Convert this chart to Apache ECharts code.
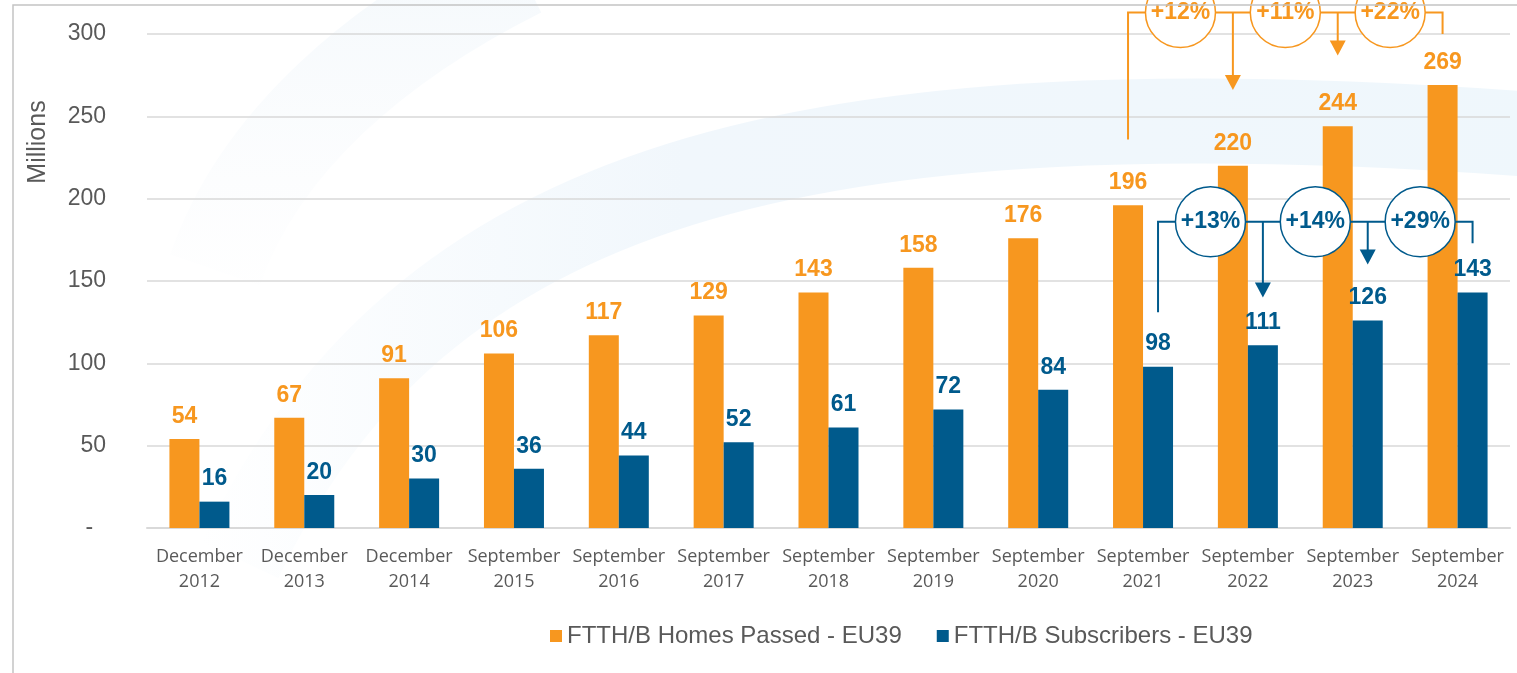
<!DOCTYPE html>
<html>
<head>
<meta charset="utf-8">
<script src="https://cdn.jsdelivr.net/npm/echarts@6/dist/echarts.min.js"></script>
<style>
  html, body { margin: 0; padding: 0; background: #fff; }
  #main { width: 1517px; height: 673px; }
</style>
</head>
<body>
<div id="main"></div>
<script>
// categories and values (millions)
const categories = [
  'December\n2012', 'December\n2013', 'December\n2014', 'September\n2015',
  'September\n2016', 'September\n2017', 'September\n2018', 'September\n2019',
  'September\n2020', 'September\n2021', 'September\n2022', 'September\n2023',
  'September\n2024'
];
const homesPassed = [54, 67, 91, 106, 117, 129, 143, 158, 176, 196, 220, 244, 269];
const subscribers = [16, 20, 30, 36, 44, 52, 61, 72, 84, 98, 111, 126, 143];
const yTicks = [0, 50, 100, 150, 200, 250, 300];

// year-on-year growth callouts over the last four periods
const bracketCats = [9, 10, 11, 12];
const homesGrowth = ['+12%', '+11%', '+22%'];
const subsGrowth = ['+13%', '+14%', '+29%'];
// heights in millions: start, bracket level, arrow tip 1, arrow tip 2, end
const homesBracket = [236, 313, 266, 287, 300];
const subsBracket = [131, 186, 140, 160, 173];

const ORANGE = '#F7971F';
const BLUE = '#005A8C';
const GREY = '#595959';
const BAR_W = 30;

function bracketSeries(levels, labels, color, shift) {
  return {
    type: 'custom',
    silent: true,
    clip: false,
    z: 10,
    data: [[bracketCats[0], levels[0]]],
    renderItem: function (params, api) {
      const xs = bracketCats.map(c => api.coord([c, 0])[0] + shift);
      const y = v => api.coord([0, v])[1];
      const top = y(levels[1]);
      const stroke = { stroke: color, lineWidth: 2, fill: null };
      const children = [{
        type: 'polyline',
        shape: { points: [[xs[0], y(levels[0])], [xs[0], top], [xs[3], top], [xs[3], y(levels[4])]] },
        style: stroke
      }];
      [1, 2].forEach(function (k) {
        const tip = y(levels[k + 1]);
        children.push({ type: 'line', shape: { x1: xs[k], y1: top, x2: xs[k], y2: tip - 12 }, style: stroke });
        children.push({
          type: 'polygon',
          shape: { points: [[xs[k] - 8, tip - 15], [xs[k] + 8, tip - 15], [xs[k], tip]] },
          style: { fill: color }
        });
      });
      labels.forEach(function (txt, i) {
        const cx = (xs[i] + xs[i + 1]) / 2;
        children.push({
          type: 'circle',
          shape: { cx: cx, cy: top, r: 35 },
          style: { fill: '#fff', stroke: color, lineWidth: 1.5 }
        });
        children.push({
          type: 'text',
          x: cx, y: top,
          style: {
            text: txt, fill: color, align: 'center', verticalAlign: 'middle',
            font: 'bold 23px "Liberation Sans", Arial, sans-serif'
          }
        });
      });
      return { type: 'group', children: children };
    }
  };
}

const chart = echarts.init(document.getElementById('main'));
chart.setOption({
  backgroundColor: '#fff',
  animation: false,
  graphic: [
    // faint decorative swooshes behind the plot
    {
      type: 'bezierCurve', z: -10,
      shape: { x1: 520, y1: -30, cpx1: 380, cpy1: 40, cpx2: 260, cpy2: 140, x2: 215, y2: 270 },
      style: {
        lineWidth: 95, fill: null,
        stroke: { type: 'linear', x: 0, y: 0, x2: 0, y2: 1, colorStops: [
          { offset: 0, color: '#f3f8fc' }, { offset: 1, color: 'rgba(248,250,252,0)' }] }
      }
    },
    {
      type: 'bezierCurve', z: -10,
      shape: { x1: 240, y1: 560, cpx1: 420, cpy1: 180, cpx2: 800, cpy2: 80, x2: 1540, y2: 135 },
      style: {
        lineWidth: 85, fill: null,
        stroke: { type: 'linear', x: 0, y: 0, x2: 1, y2: 0, colorStops: [
          { offset: 0, color: 'rgba(240,247,252,0)' }, { offset: 0.35, color: '#f1f7fc' },
          { offset: 1, color: '#eff7fc' }] }
      }
    },
    {
      type: 'rect', z: 100,
      shape: { x: 13, y: 5, width: 1600, height: 800 },
      style: { fill: null, stroke: '#c4c4c4', lineWidth: 1.5 }
    },
    {
      type: 'text', rotation: Math.PI / 2, x: 38, y: 142,
      style: {
        text: 'Millions', fill: GREY, align: 'center', verticalAlign: 'middle',
        font: '25px "Liberation Sans", Arial, sans-serif'
      }
    }
  ],
  grid: { left: 147, right: 7, top: 34, bottom: 145 },
  legend: {
    data: ['FTTH/B Homes Passed - EU39', 'FTTH/B Subscribers - EU39'],
    left: 545, top: 619,
    itemWidth: 12, itemHeight: 12, itemGap: 35,
    icon: 'rect',
    textStyle: { color: GREY, fontSize: 24, fontFamily: '"Liberation Sans", Arial, sans-serif' }
  },
  xAxis: {
    type: 'category',
    data: categories,
    axisLine: { lineStyle: { color: '#d9d9d9', width: 2 } },
    axisTick: { show: false },
    axisLabel: {
      color: GREY, fontSize: 18, lineHeight: 25, margin: 16,
      fontFamily: '"Open Sans", sans-serif', interval: 0
    }
  },
  yAxis: {
    type: 'value',
    min: yTicks[0], max: yTicks[yTicks.length - 1], interval: 50,
    axisLine: { show: false },
    axisTick: { show: false },
    splitLine: { lineStyle: { color: '#d9d9d9', width: 1.5 } },
    axisLabel: {
      color: GREY, fontSize: 23, margin: 41,
      fontFamily: '"Liberation Sans", Arial, sans-serif',
      formatter: v => v === 0 ? '-  ' : String(v)
    }
  },
  series: [
    {
      name: 'FTTH/B Homes Passed - EU39',
      type: 'bar', data: homesPassed, barWidth: BAR_W, barGap: '0%',
      itemStyle: { color: ORANGE },
      label: {
        show: true, position: 'top', distance: 11, color: ORANGE,
        fontWeight: 'bold', fontSize: 23, fontFamily: '"Liberation Sans", Arial, sans-serif'
      }
    },
    {
      name: 'FTTH/B Subscribers - EU39',
      type: 'bar', data: subscribers, barWidth: BAR_W,
      itemStyle: { color: BLUE },
      label: {
        show: true, position: 'top', distance: 11, color: BLUE,
        fontWeight: 'bold', fontSize: 23, fontFamily: '"Liberation Sans", Arial, sans-serif'
      }
    },
    bracketSeries(homesBracket, homesGrowth, ORANGE, -BAR_W / 2),
    bracketSeries(subsBracket, subsGrowth, BLUE, BAR_W / 2)
  ]
});
window.addEventListener('resize', () => chart.resize());
</script>
</body>
</html>
